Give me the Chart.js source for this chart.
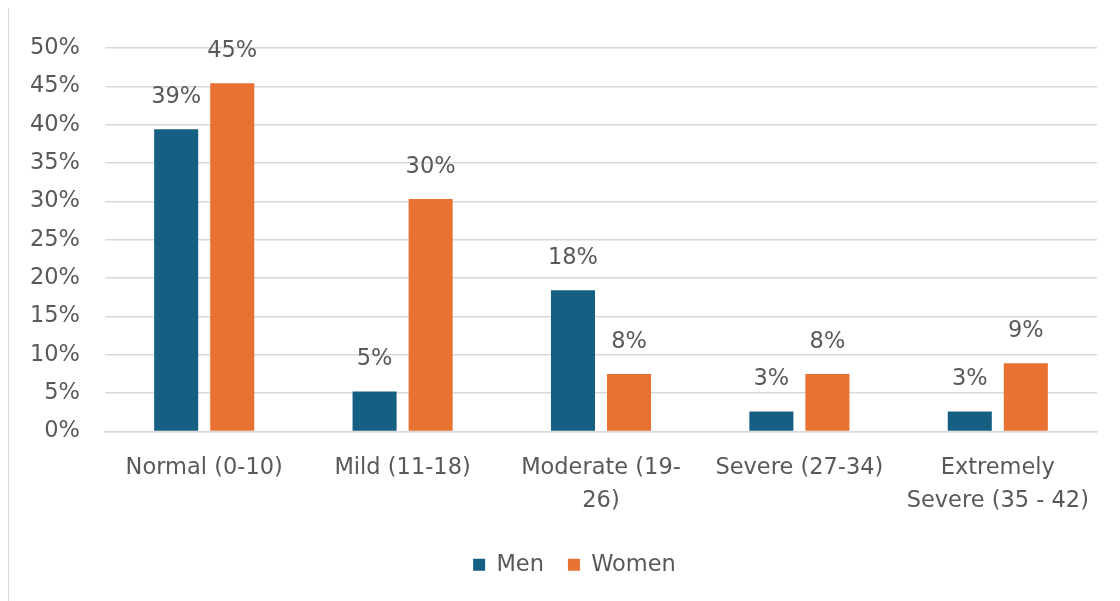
<!DOCTYPE html>
<html>
<head>
<meta charset="utf-8">
<script src="https://cdn.jsdelivr.net/npm/chart.js@4.4.0/dist/chart.umd.min.js"></script>
<style>
  html, body { margin: 0; padding: 0; background: #ffffff; }
  #wrap { position: relative; width: 1120px; height: 601px; }
  #frame { position: absolute; left: 8px; top: 8px; width: 0; height: 593px; border-left: 1px solid #d9d9d9; }
  canvas { position: absolute; left: 0; top: 0; }
</style>
</head>
<body>
<div id="wrap">
  <div id="frame"></div>
  <canvas id="c" width="1120" height="601"></canvas>
</div>
<script>
const categories = ["Normal (0-10)", "Mild (11-18)", ["Moderate (19-", "26)"], "Severe (27-34)", ["Extremely", "Severe (35 - 42)"]];
const menValues = [39.4, 5.2, 18.4, 2.6, 2.6];
const womenValues = [45.4, 30.3, 7.5, 7.5, 8.9];
const yTicks = [0, 5, 10, 15, 20, 25, 30, 35, 40, 45, 50];

const FONT = "'DejaVu Sans', sans-serif";
const TEXT = "#595959";
const FS = 22.5;

const labelPlugin = {
  id: 'valueLabels',
  afterLayout(chart) {
    if (chart.legend) { chart.legend.left += 26; chart.legend.right += 26; }
  },
  afterDatasetsDraw(chart) {
    const ctx = chart.ctx;
    ctx.save();
    ctx.font = FS + "px " + FONT;
    ctx.fillStyle = TEXT;
    ctx.textAlign = 'center';
    ctx.textBaseline = 'middle';
    chart.data.datasets.forEach((ds, i) => {
      const meta = chart.getDatasetMeta(i);
      meta.data.forEach((bar, j) => {
        ctx.fillText(Math.round(ds.data[j]) + '%', bar.x, bar.y - 32);
      });
    });
    ctx.restore();
  }
};

new Chart(document.getElementById('c'), {
  type: 'bar',
  data: {
    labels: categories,
    datasets: [
      { label: 'Men', data: menValues, backgroundColor: '#156082', categoryPercentage: 0.565, barPercentage: 0.786 },
      { label: 'Women', data: womenValues, backgroundColor: '#E97132', categoryPercentage: 0.565, barPercentage: 0.786 }
    ]
  },
  options: {
    responsive: false,
    animation: false,
    devicePixelRatio: 1,
    layout: { padding: { top: 48, right: 23, left: 0, bottom: 15 } },
    plugins: {
      legend: {
        position: 'bottom',
        labels: {
          font: { family: FONT, size: FS },
          color: TEXT,
          boxWidth: 12,
          boxHeight: 12,
          padding: 24,
          generateLabels(chart) {
            return chart.data.datasets.map((ds, i) => ({
              text: ds.label, fillStyle: ds.backgroundColor, strokeStyle: ds.backgroundColor,
              lineWidth: 0, hidden: false, datasetIndex: i, fontColor: TEXT
            }));
          }
        }
      },
      tooltip: { enabled: false }
    },
    scales: {
      x: {
        grid: { display: false, drawTicks: false },
        border: { display: true, color: '#d9d9d9', width: 1.5 },
        ticks: { font: { family: FONT, size: FS, lineHeight: 1.47 }, color: TEXT, padding: 20, maxRotation: 0, autoSkip: false },
        afterFit(s) { s.height = 98; }
      },
      y: {
        min: 0, max: 50,
        afterBuildTicks(s) { s.ticks = yTicks.map(v => ({ value: v })); },
        grid: { color: '#d9d9d9', lineWidth: 1.5, drawTicks: false },
        border: { display: false },
        ticks: { font: { family: FONT, size: FS }, color: TEXT, padding: 25, callback: v => v + '%' },
        afterFit(s) { s.width = 105; }
      }
    }
  },
  plugins: [labelPlugin]
});
</script>
</body>
</html>
